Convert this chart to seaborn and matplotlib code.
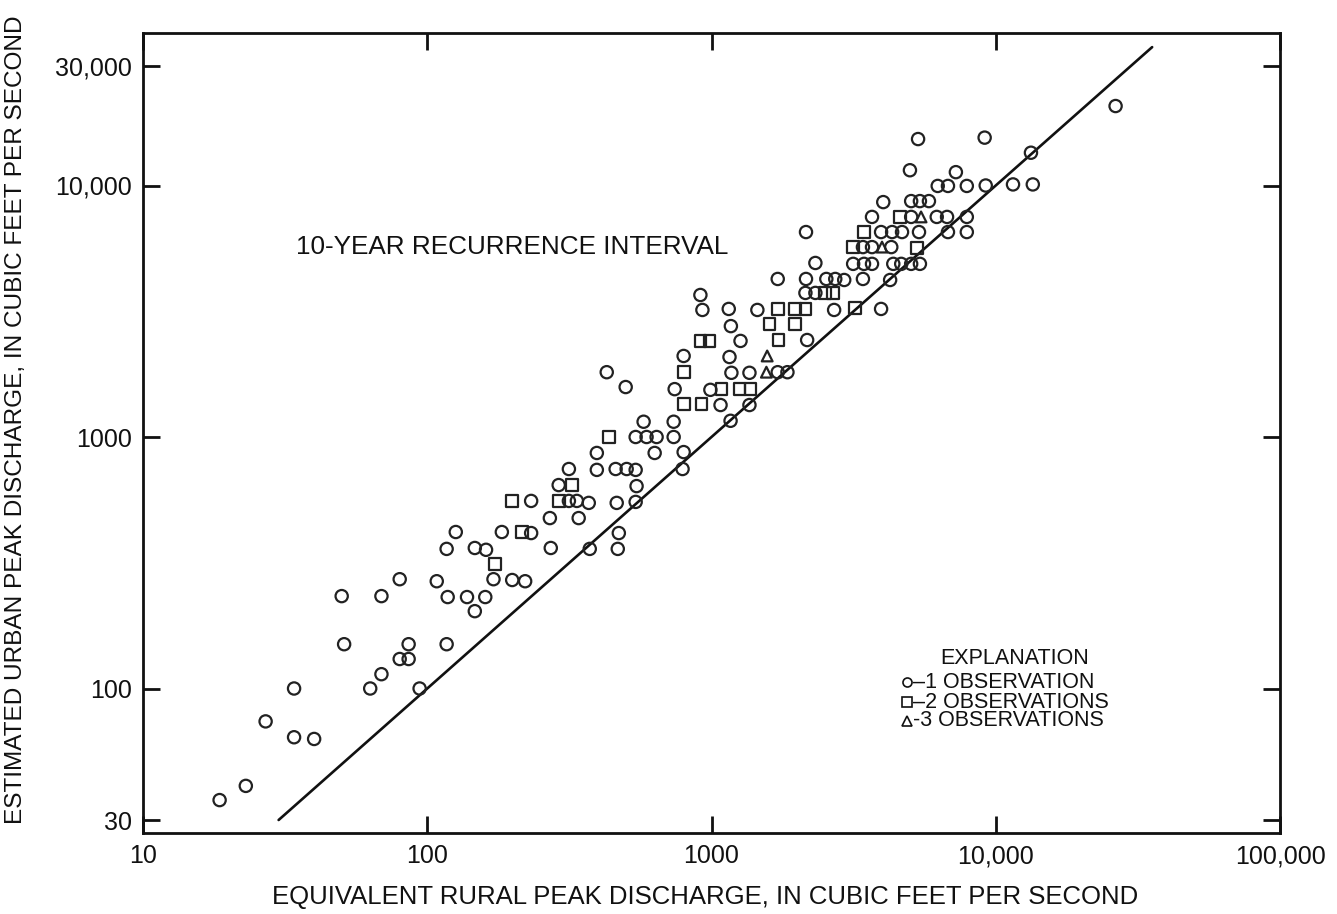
import numpy as np
import pandas as pd
import matplotlib
matplotlib.use("Agg")
import matplotlib.pyplot as plt
import seaborn as sns

# ---- data (cubic feet per second) ----
circle_rural = [18.6, 23, 27, 34, 34, 40, 51, 63, 69, 80, 86, 86, 94, 117,
                50, 69, 80, 108, 118, 138, 160, 147, 171, 199, 221,
                117, 147, 161, 126, 183, 232, 272, 270, 232, 315, 336, 290,
                341, 370, 464, 541, 472, 373, 468,
                428, 499, 577, 541, 591, 631, 395, 315, 395, 460, 503, 541,
                545, 641, 736, 736, 798, 791,
                1710, 914, 929, 1150, 1450, 1170, 1265, 798, 1157, 1175, 1360,
                1710, 1850, 742, 991, 1076, 1360, 1167,
                2320, 3150, 3440, 3670, 4360, 4650, 5040, 5410,
                2150, 2535, 2725, 2930, 3410, 4250, 2140, 2320, 2700, 3950, 2170,
                4990, 7240, 6250, 6790, 7910, 4020, 5040, 5410, 5820,
                3670, 5040, 6200, 6740, 7910,
                2150, 3950, 4320, 4680, 5370, 6790, 7910,
                3410, 3670, 4290,
                26400, 5330, 9140, 13300, 11500, 13500, 9220]
circle_urban = [36, 41, 74, 100, 64, 63, 150, 100, 114, 131, 131, 150, 100, 150,
                233, 233, 272, 267, 231, 231, 231, 203, 272, 270, 267,
                359, 362, 356, 419, 419, 415, 362, 476, 557, 557, 557, 644,
                476, 547, 547, 552, 415, 359, 359,
                1810, 1580, 1150, 1000, 1000, 864, 864, 746, 740, 746, 746, 740,
                638, 1000, 1000, 1150, 871, 746,
                4250, 3670, 3200, 3230, 3200, 2760, 2410, 2100, 2080, 1800, 1800,
                1810, 1810, 1550, 1540, 1340, 1340, 1160,
                4920, 4880, 4880, 4880, 4880, 4880, 4880, 4880,
                4250, 4250, 4250, 4210, 4250, 4210, 3740, 3740, 3200, 3230, 2430,
                11500, 11300, 9960, 9960, 9960, 8590, 8670, 8670, 8670,
                7500, 7500, 7500, 7500, 7500,
                6530, 6530, 6530, 6530, 6530, 6530, 6530,
                5690, 5690, 5690,
                20700, 15300, 15500, 13500, 10100, 10100, 10000]

square_rural = [173, 215, 199, 290, 323, 435, 1710, 1970, 2140, 1600, 1970,
                914, 984, 1720, 798, 1084, 1254, 1371, 798, 922,
                2510, 2680, 3200, 3440, 3150, 5280, 4600]
square_urban = [312, 419, 557, 557, 644, 1000, 3230, 3230, 3230, 2810, 2810,
                2410, 2410, 2430, 1810, 1550, 1550, 1550, 1350, 1350,
                3740, 3740, 3260, 6530, 5690, 5640, 7500]

triangle_rural = [1570, 1560, 5460, 3980]
triangle_urban = [2100, 1810, 7500, 5690]

line_x = [30, 35500]   # line of equality (urban = rural)
line_y = [30, 35500]

x_ticks = [10, 100, 1000, 10000, 100000]
x_labels = ["10", "100", "1000", "10,000", "100,000"]
y_ticks = [30, 100, 1000, 10000, 30000]
y_labels = ["30", "100", "1000", "10,000", "30,000"]

df = pd.DataFrame({
    "rural": circle_rural + square_rural + triangle_rural,
    "urban": circle_urban + square_urban + triangle_urban,
    "obs": ["1"] * len(circle_rural) + ["2"] * len(square_rural) + ["3"] * len(triangle_rural),
})

sns.set_style("ticks")
plt.rcParams["font.family"] = ["Liberation Sans", "DejaVu Sans"]

fig = plt.figure(figsize=(13.37, 9.14), dpi=100)
ax = fig.add_axes([143 / 1337, 1 - 833 / 914, (1280 - 143) / 1337, (833 - 33) / 914])

marker_map = {"1": "o", "2": "s", "3": "^"}
size_map = {"1": 78, "2": 72, "3": 60}
for key, grp in df.groupby("obs"):
    sns.scatterplot(data=grp, x="rural", y="urban", marker=marker_map[key],
                    s=size_map[key], facecolors="none", edgecolors="#222222",
                    linewidth=1.6, color="black", ax=ax, legend=False, zorder=3)

sns.lineplot(x=line_x, y=line_y, color="#111111", linewidth=1.9, ax=ax, zorder=2)

ax.set_xscale("log")
ax.set_yscale("log")
ax.set_xlim(10, 10 ** (1 + 1137 / 284.25))
ax.set_ylim(10 ** (3 - 396 / 251.5), 10 ** (3 + 404 / 251.5))

ax.xaxis.set_major_locator(matplotlib.ticker.FixedLocator(x_ticks))
ax.yaxis.set_major_locator(matplotlib.ticker.FixedLocator(y_ticks))
ax.xaxis.set_minor_locator(matplotlib.ticker.NullLocator())
ax.yaxis.set_minor_locator(matplotlib.ticker.NullLocator())
ax.set_xticklabels(x_labels)
ax.set_yticklabels(y_labels)
ax.tick_params(axis="both", which="major", direction="in", length=12, width=2,
               labelsize=18, color="#111111", labelcolor="#111111",
               top=True, right=True, pad=8)
for s in ax.spines.values():
    s.set_linewidth(2)
    s.set_color("#111111")

ax.set_xlabel("EQUIVALENT RURAL PEAK DISCHARGE, IN CUBIC FEET PER SECOND",
              fontsize=18.5, color="#111111")
ax.xaxis.set_label_coords((705 - 143) / 1137, -(885 - 833) / 800)
ax.set_ylabel("ESTIMATED URBAN PEAK DISCHARGE, IN CUBIC FEET PER SECOND",
              fontsize=17.6, color="#111111")
ax.yaxis.set_label_coords(-(143 - 27) / 1137, (833 - 420) / 800)

ax.text((296 - 143) / 1137, (833 - 247) / 800, "10-YEAR RECURRENCE INTERVAL",
        transform=ax.transAxes, fontsize=18.8, color="#111111",
        ha="left", va="center")

# explanation (legend)
fig.text(1015 / 1337, 1 - 658 / 914, "EXPLANATION", fontsize=15.5, ha="center",
         va="center", color="#111111")
leg_items = [("o", "\u20131 OBSERVATION", 682), ("s", "\u20132 OBSERVATIONS", 702),
             ("^", "-3 OBSERVATIONS", 721)]
for mk, txt, yy in leg_items:
    fig.lines.append(matplotlib.lines.Line2D([907 / 1337], [1 - yy / 914],
                     marker=mk, markersize=6.5,
                     markerfacecolor="none", markeredgecolor="#111111",
                     markeredgewidth=1.2, linestyle="none",
                     transform=fig.transFigure))
    fig.text(913 / 1337, 1 - yy / 914, txt, fontsize=15.5, ha="left",
             va="center", color="#111111")

fig.savefig("out.png", dpi=100)
